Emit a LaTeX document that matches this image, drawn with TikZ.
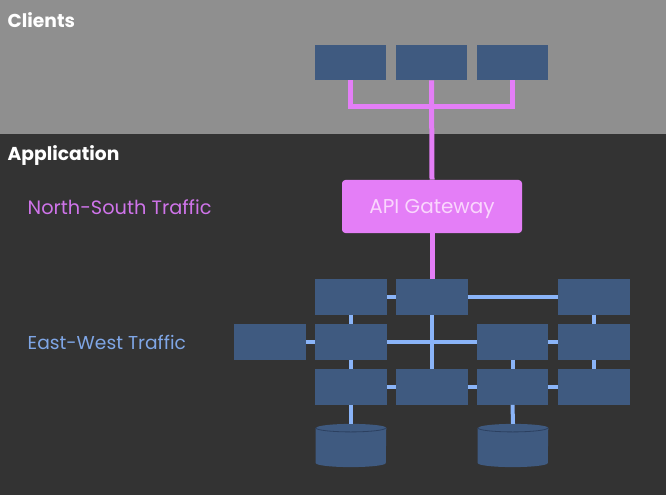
\documentclass[tikz,border=0pt]{standalone}
\usepackage{fontspec}
\setmainfont{Poppins}
\definecolor{topgray}{HTML}{8F8F8F}
\definecolor{appdark}{HTML}{333333}
\definecolor{boxblue}{HTML}{3F5A80}
\definecolor{dbline}{HTML}{2C4060}
\definecolor{nspink}{HTML}{E47EF7}
\definecolor{nstext}{HTML}{CF74EA}
\definecolor{gwtext}{HTML}{FAD6FD}
\definecolor{ewblue}{HTML}{8AB4F8}
\definecolor{ewtext}{HTML}{7FA6E6}
\tikzset{
    svc/.style={fill=boxblue, minimum width=53.5pt, minimum height=26.5pt, inner sep=0pt},
    db/.style={minimum width=52.5pt, minimum height=32pt, inner sep=0pt},
    ns/.style={nspink, line width=3.75pt},
    ew/.style={ewblue, line width=3pt},
    heading/.style={anchor=west, text=white, font=\bfseries\fontsize{14}{16}\selectfont},
    lbl/.style={anchor=west, font=\fontsize{14.5}{17}\selectfont}
}
\newcommand{\dbdrum}[1]{%
    \fill[boxblue]([yshift=-3pt]#1.north west)--([yshift=3pt]#1.south west)
        arc[start angle=180, end angle=360, x radius=26.25pt, y radius=3pt]
        --([yshift=-3pt]#1.north east)
        arc[start angle=0, end angle=180, x radius=26.25pt, y radius=3pt]--cycle;
    \draw[dbline, line width=.6pt]([yshift=-3pt]#1.north west)
        arc[start angle=180, end angle=360, x radius=26.25pt, y radius=3pt];
}
\begin{document}
\begin{tikzpicture}[x=0.75pt, y=-0.75pt]
\fill[topgray](0,0) rectangle (666,134);
\fill[appdark](0,134) rectangle (666,495);
\useasboundingbox (0,0) rectangle (666,495);

\node[heading] (clients) at (3,20) {Clients};
\node[heading] (app) at (3,156) {Application};
\node[lbl, text=nstext] (nslbl) at (23,207) {North-South Traffic};
\node[lbl, text=ewtext, font=\fontsize{14}{17}\selectfont] (ewlbl) at (23,342) {East-West Traffic};

% clients
\foreach \n/\x in {cl1/350.5, cl2/431.5, cl3/512.5}
{
    \node[svc] (\n) at (\x,62.5) {};
}
\coordinate (split) at (431.5,107);
\node[fill=nspink, rounded corners=2.5pt, minimum width=135pt, minimum height=39.75pt, text=gwtext,
    text depth=0pt, font=\fontsize{15}{18}\selectfont] (gw) at (432,206.5) {API Gateway};

% services: s<row><col>
\foreach \n/\x/\y in {s12/351/297, s13/432/297, s15/594/297,
    s21/270/342, s22/351/342, s24/512.5/342, s25/594/342,
    s32/351/387, s33/432/387, s34/512.5/387, s35/594/387}
{
    \node[svc] (\n) at (\x,\y) {};
}
\node[db] (db1) at (351,445.5) {};
\node[db] (db2) at (513,445.5) {};
\dbdrum{db1}
\dbdrum{db2}

\draw[ns](cl1.south)--(cl1.south|-split)--(cl3.south|-split)--(cl3.south);
\draw[ns](cl2.south)--(gw.north);
\draw[ns](gw.south)--(s13.north);

\draw[ew](s12.east)--(s13.west);
\draw[ew](s13.east)--(s15.west);
\draw[ew](s21.east)--(s22.west);
\draw[ew](s22.east)--(s24.west);
\draw[ew](s24.east)--(s25.west);
\draw[ew](s32.east)--(s33.west);
\draw[ew](s33.east)--(s34.west);
\draw[ew](s34.east)--(s35.west);
\draw[ew](s12.south)--(s22.north);
\draw[ew](s22.south)--(s32.north);
\draw[ew](s13.south)--(s33.north);
\draw[ew](s15.south)--(s25.north);
\draw[ew](s25.south)--(s35.north);
\draw[ew](s24.south)--(s34.north);
\draw[ew](s32.south)--(db1.north);
\draw[ew](s34.south)--(db2.north);
\end{tikzpicture}
\end{document}
